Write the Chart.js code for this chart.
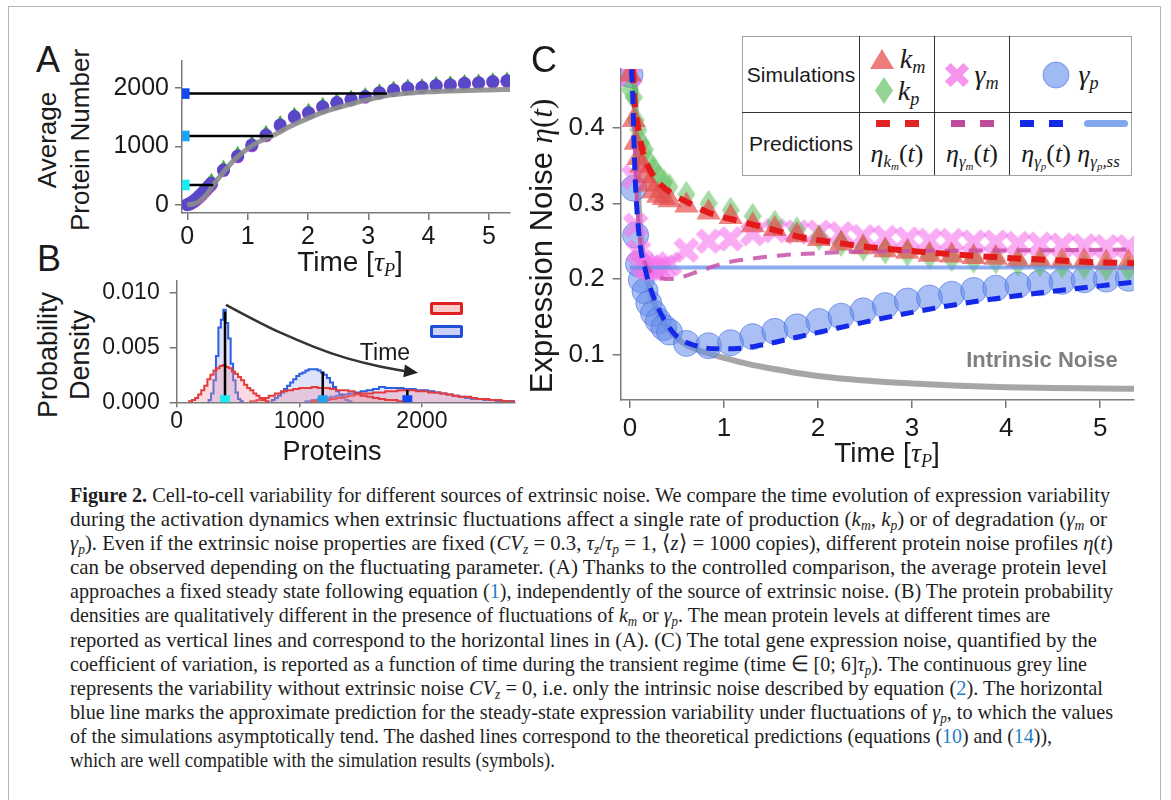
<!DOCTYPE html>
<html>
<head>
<meta charset="utf-8">
<title>Figure 2</title>
<script src="https://cdn.jsdelivr.net/npm/chart.js@4.4.1/dist/chart.umd.min.js"></script>
<style>
  body { margin: 0; background: #fff; }
  #page { position: relative; width: 1171px; height: 800px; overflow: hidden; font-family: "Liberation Sans", Arial, sans-serif; color: #1a1a1a; }
  #frame { position: absolute; left: 8px; top: 6px; width: 1151px; height: 830px; border: 1px solid #b4b4b4; }
  .box { position: absolute; }
  .t { position: absolute; white-space: nowrap; line-height: 1; transform: translate(-50%, -50%); }
  .rot { transform: translate(-50%, -50%) rotate(-90deg); text-align: center; }
  .m { font-family: "Liberation Serif", "Times New Roman", serif; font-style: italic; }
  .up { font-style: normal; }
  sub { font-size: 65%; vertical-align: -0.3em; line-height: 0; }
  #leg { position: absolute; left: 742px; top: 36px; width: 389px; height: 140px; border-collapse: collapse; background: #fff; font-size: 21px; table-layout: fixed; }
  #leg td { border: 1.5px solid #333; padding: 0; text-align: center; vertical-align: middle; }
  #leg tr:first-child td { border-top-color: #a0a0a0; }
  #leg tr:last-child td { border-bottom-color: #a0a0a0; }
  #leg td:first-child { border-left-color: #a0a0a0; }
  #leg td:last-child { border-right-color: #a0a0a0; }
  .sym { display: flex; align-items: center; justify-content: center; gap: 5px; font-size: 28px; }
  .dashes { display: flex; justify-content: center; gap: 15px; height: 7px; margin-bottom: 12px; }
  .dashes span { width: 14px; height: 7px; display: block; }
  .pred { font-size: 26px; }
  #cap { position: absolute; left: 70px; top: 483px; font-family: "Liberation Serif", "Times New Roman", serif; font-size: 21.5px; line-height: 24.1px; color: #1e1e1e; white-space: nowrap; }
  #cap > div { transform-origin: 0 50%; }
  #cap i { font-style: italic; }
  .ref { color: #1f7fc4; }
</style>
</head>
<body>
<div id="page">
  <div id="frame"></div>

  <div class="box" style="left:100px; top:50px; width:430px; height:210px;"><canvas id="chartA"></canvas></div>
  <div class="box" style="left:100px; top:270px; width:430px; height:200px;"><canvas id="chartB"></canvas></div>
  <div class="box" style="left:500px; top:55px; width:655px; height:400px;"><canvas id="chartC"></canvas></div>

  <div class="t" style="left:48px; top:60px; font-size:36px;">A</div>
  <div class="t" style="left:49px; top:259px; font-size:36px;">B</div>
  <div class="t" style="left:544px; top:60px; font-size:36px;">C</div>

  <div class="t rot" style="left:64px; top:140px; font-size:26px; line-height:33px;">Average<br>Protein Number</div>
  <div class="t" style="left:350px; top:262px; font-size:28px;">Time [<span class="m">τ<sub>P</sub></span>]</div>
  <div class="t rot" style="left:64px; top:355px; font-size:27px; line-height:32px;">Probability<br>Density</div>
  <div class="t" style="left:332px; top:451px; font-size:27px;">Proteins</div>
  <div class="t" style="left:385px; top:352px; font-size:23px;">Time</div>
  <div class="box" style="left:430px; top:302px; width:33px; height:13px; box-sizing:border-box; border:3px solid #e02020; background:rgba(250,170,170,0.6); border-radius:2px;"></div>
  <div class="box" style="left:430px; top:325px; width:33px; height:13px; box-sizing:border-box; border:3px solid #2050d8; background:rgba(170,180,245,0.6); border-radius:2px;"></div>

  <div class="t rot" style="left:541px; top:246px; font-size:31px;">Expression Noise <span class="m">η<span class="up">(</span>t<span class="up">)</span></span></div>
  <div class="t" style="left:887px; top:453px; font-size:28px;">Time [<span class="m">τ<sub>P</sub></span>]</div>
  <div class="t" style="left:1042px; top:360px; font-size:22px; font-weight:bold; color:#7f7f7f;">Intrinsic Noise</div>

  <table id="leg">
    <colgroup><col style="width:117px"><col style="width:75px"><col style="width:75px"><col style="width:122px"></colgroup>
    <tr style="height:76px">
      <td>Simulations</td>
      <td>
        <div class="sym"><svg width="26" height="22"><polygon points="13,1 25,21 1,21" fill="rgba(230,75,75,0.72)"/></svg><span class="m">k<sub>m</sub></span></div>
        <div class="sym"><svg width="18" height="27"><polygon points="9,0 18,13.5 9,27 0,13.5" fill="rgba(90,190,90,0.65)"/></svg><span class="m">k<sub>p</sub></span></div>
      </td>
      <td><div class="sym"><svg width="24" height="24"><g opacity="0.7" fill="rgb(245,105,230)" transform="rotate(45 12 12)"><rect x="8" y="-1" width="8" height="26"/><rect x="-1" y="8" width="26" height="8"/></g></svg><span class="m">γ<sub>m</sub></span></div></td>
      <td><div class="sym" style="gap:8px"><svg width="28" height="28"><circle cx="14" cy="14" r="13" fill="rgba(100,140,235,0.6)" stroke="rgba(70,110,225,0.6)"/></svg><span class="m">γ<sub>p</sub></span></div></td>
    </tr>
    <tr>
      <td>Predictions</td>
      <td><div class="dashes"><span style="background:#e02222"></span><span style="background:#e02222"></span></div>
          <div class="pred m">η<sub>k<sub>m</sub></sub><span class="up">(</span>t<span class="up">)</span></div></td>
      <td><div class="dashes"><span style="background:#c04a9c"></span><span style="background:#c04a9c"></span></div>
          <div class="pred m">η<sub>γ<sub>m</sub></sub><span class="up">(</span>t<span class="up">)</span></div></td>
      <td><div class="dashes" style="justify-content:flex-start; padding-left:10px; gap:15px"><span style="background:#1428e8"></span><span style="background:#1428e8"></span><span style="width:44px; margin-left:6px; border-radius:4px; background:rgba(100,145,235,0.8)"></span></div>
          <div class="pred m">η<sub>γ<sub>p</sub></sub><span class="up">(</span>t<span class="up">)</span> η<sub>γ<sub>p</sub>,ss</sub></div></td>
    </tr>
  </table>

  <div id="cap">
    <div><b>Figure 2.</b> Cell-to-cell variability for different sources of extrinsic noise. We compare the time evolution of expression variability</div>
    <div>during the activation dynamics when extrinsic fluctuations affect a single rate of production (<i>k<sub>m</sub></i>, <i>k<sub>p</sub></i>) or of degradation (<i>γ<sub>m</sub></i> or</div>
    <div><i>γ<sub>p</sub></i>). Even if the extrinsic noise properties are fixed (<i>CV<sub>z</sub></i> = 0.3, <i>τ<sub>z</sub></i>/<i>τ<sub>p</sub></i> = 1, ⟨<i>z</i>⟩ = 1000 copies), different protein noise profiles <i>η</i>(<i>t</i>)</div>
    <div>can be observed depending on the fluctuating parameter. (A) Thanks to the controlled comparison, the average protein level</div>
    <div>approaches a fixed steady state following equation (<span class="ref">1</span>), independently of the source of extrinsic noise. (B) The protein probability</div>
    <div>densities are qualitatively different in the presence of fluctuations of <i>k<sub>m</sub></i> or <i>γ<sub>p</sub></i>. The mean protein levels at different times are</div>
    <div>reported as vertical lines and correspond to the horizontal lines in (A). (C) The total gene expression noise, quantified by the</div>
    <div>coefficient of variation, is reported as a function of time during the transient regime (time ∈ [0; 6]<i>τ<sub>p</sub></i>). The continuous grey line</div>
    <div>represents the variability without extrinsic noise <i>CV<sub>z</sub></i> = 0, i.e. only the intrinsic noise described by equation (<span class="ref">2</span>). The horizontal</div>
    <div>blue line marks the approximate prediction for the steady-state expression variability under fluctuations of <i>γ<sub>p</sub></i>, to which the values</div>
    <div>of the simulations asymptotically tend. The dashed lines correspond to the theoretical predictions (equations (<span class="ref">10</span>) and (<span class="ref">14</span>)),</div>
    <div>which are well compatible with the simulation results (symbols).</div>
  </div>
</div>

<script>
// ---------- data ----------

// time points of the simulations (in units of tau_P)
const tSim = [0.6, 0.835, 1.07, 1.305, 1.54, 1.775, 2.01, 2.245, 2.48, 2.715, 2.95, 3.185, 3.42, 3.655, 3.89, 4.125, 4.36, 4.595, 4.83, 5.065, 5.3];

// panel A: average protein number
const tEarlyA = [0, 0.04, 0.08, 0.12, 0.16, 0.2, 0.24, 0.28, 0.32, 0.36, 0.4];
const avgEarlyKp = [0, 30, 60, 95, 135, 180, 225, 270, 320, 370, 420];
const avgEarlyGm = [0, 10, 30, 55, 90, 125, 165, 210, 255, 300, 345];
const avgEarlyGp = [0, 20, 45, 75, 110, 150, 190, 235, 280, 325, 370];
const avgKp = [640, 880, 1065, 1240, 1410, 1550, 1620, 1720, 1790, 1845, 1890, 1955, 2000, 2035, 2045, 2080, 2090, 2110, 2120, 2140, 2155];
const avgGm = [585, 820, 1010, 1180, 1350, 1495, 1565, 1668, 1738, 1795, 1842, 1910, 1955, 1990, 2003, 2035, 2045, 2070, 2080, 2100, 2115];
const avgGp = [595, 835, 1024, 1195, 1367, 1510, 1578, 1681, 1750, 1807, 1853, 1921, 1967, 2000, 2013, 2045, 2055, 2080, 2090, 2110, 2125];
const tGrayA = [0, 0.1, 0.2, 0.3, 0.43, 0.6, 0.8, 1.0, 1.2, 1.42, 1.7, 2.0, 2.35, 2.7, 3.0, 3.31, 3.7, 4.0, 4.5, 5.0, 5.37];
const grayA = [0, 12, 60, 150, 340, 560, 790, 960, 1085, 1185, 1340, 1480, 1620, 1720, 1800, 1870, 1915, 1935, 1955, 1968, 1976];
const meanLevels = [338, 1178, 1904];
const meanReach = [0.43, 1.42, 3.31];
const levelColors = ['#19ecf0', '#1ea2f2', '#1248f4'];
const ticksTime = [0, 1, 2, 3, 4, 5];
const ticksAvg = [0, 1000, 2000];

// panel B: protein histograms (first bin edge, bin width, densities)
const histRed1 = { start: 100, width: 25, dens: [0.0001, 0.0002, 0.0004, 0.0007, 0.0011, 0.0015, 0.0021, 0.0025, 0.0029, 0.0031, 0.0033, 0.0034, 0.0032, 0.0031, 0.0028, 0.0026, 0.0023, 0.0020, 0.0016, 0.0013, 0.0011, 0.0008, 0.0006, 0.0004, 0.0002, 0.0001] };
const histBlue1 = { start: 260, width: 20, dens: [0.0002, 0.0008, 0.0020, 0.0042, 0.0068, 0.0075, 0.0084, 0.0072, 0.0058, 0.0035, 0.0020, 0.0009, 0.0003, 0.0001] };
const histRed2 = { start: 600, width: 50, dens: [0.0001, 0.0002, 0.0004, 0.0006, 0.0008, 0.0010, 0.0011, 0.0012, 0.0013, 0.0013, 0.0014, 0.0013, 0.0013, 0.0012, 0.0011, 0.0011, 0.0010, 0.0008, 0.0006, 0.0005, 0.0004, 0.0003, 0.0002, 0.0002, 0.0001, 0.0001] };
const histBlue2 = { start: 775, width: 25, dens: [0.0002, 0.0004, 0.0006, 0.0009, 0.0012, 0.0015, 0.0018, 0.0021, 0.0024, 0.0026, 0.0027, 0.0029, 0.0030, 0.0030, 0.0030, 0.0029, 0.0027, 0.0025, 0.0022, 0.0018, 0.0014, 0.0010, 0.0007, 0.0004, 0.0002, 0.0001] };
const histRed3 = { start: 1100, width: 50, dens: [0.0001, 0.0002, 0.0002, 0.0003, 0.0004, 0.0005, 0.0006, 0.0007, 0.0008, 0.0008, 0.0009, 0.0009, 0.0010, 0.0010, 0.0011, 0.0011, 0.0011, 0.0010, 0.0010, 0.0009, 0.0009, 0.0008, 0.0007, 0.0006, 0.0005, 0.0005, 0.0004, 0.0003, 0.0003, 0.0002, 0.0002, 0.0001, 0.0001, 0.0001] };
const histBlue3 = { start: 1050, width: 50, dens: [0.0001, 0.0002, 0.0003, 0.0004, 0.0005, 0.0006, 0.0007, 0.0008, 0.0009, 0.0010, 0.0011, 0.0012, 0.0014, 0.0013, 0.0013, 0.0013, 0.0012, 0.0012, 0.0011, 0.0011, 0.0010, 0.0009, 0.0008, 0.0007, 0.0006, 0.0005, 0.0004, 0.0003, 0.0003, 0.0002, 0.0002, 0.0001, 0.0001, 0.0001] };
const histMeans = [394, 1191, 1881];
const histMeanHeights = [0.00824, 0.00278, 0.00112];
const arrowX = [402, 704, 979, 1250, 1520, 1795, 1968];
const arrowY = [0.00885, 0.00703, 0.00566, 0.00445, 0.00357, 0.00294, 0.00269];
const ticksProteins = [0, 1000, 2000];
const ticksDensity = [0, 0.005, 0.010];

// panel C: expression noise
const tEarlyC = [0.0, 0.04, 0.06, 0.09, 0.12, 0.16, 0.2, 0.25, 0.3, 0.36, 0.42];
const noiseKmEarly = [0.47, 0.41, 0.38, 0.36, 0.35, 0.336, 0.325, 0.316, 0.31, 0.307, 0.304];
const noiseKpEarly = [0.45, 0.44, 0.41, 0.397, 0.38, 0.371, 0.355, 0.345, 0.336, 0.328, 0.322];
const noiseGmEarly = [0.47, 0.335, 0.271, 0.236, 0.223, 0.217, 0.214, 0.213, 0.214, 0.216, 0.22];
const noiseGpEarly = [0.47, 0.32, 0.258, 0.22, 0.199, 0.184, 0.168, 0.155, 0.145, 0.136, 0.13];
const noiseKm = [0.297, 0.288, 0.282, 0.271, 0.266, 0.258, 0.253, 0.247, 0.242, 0.238, 0.236, 0.232, 0.231, 0.229, 0.228, 0.225, 0.225, 0.224, 0.224, 0.222, 0.222];
const noiseKp = [0.312, 0.3, 0.291, 0.283, 0.274, 0.265, 0.255, 0.247, 0.241, 0.237, 0.234, 0.23, 0.227, 0.225, 0.224, 0.221, 0.22, 0.218, 0.217, 0.215, 0.214];
const noiseGm = [0.238, 0.25, 0.253, 0.26, 0.264, 0.262, 0.262, 0.26, 0.256, 0.255, 0.253, 0.251, 0.251, 0.249, 0.249, 0.247, 0.246, 0.245, 0.244, 0.243, 0.243];
const noiseGp = [0.115, 0.112, 0.116, 0.124, 0.131, 0.137, 0.144, 0.151, 0.158, 0.165, 0.171, 0.175, 0.18, 0.185, 0.188, 0.192, 0.195, 0.197, 0.199, 0.2, 0.201];
const tPredKm = [0.03, 0.05, 0.09, 0.14, 0.23, 0.34, 0.48, 0.62, 0.83, 1.15, 1.5, 1.81, 2.2, 2.52, 3.0, 3.5, 4.0, 4.5, 5.0, 5.36];
const predKm = [0.477, 0.432, 0.397, 0.366, 0.34, 0.323, 0.31, 0.301, 0.288, 0.277, 0.266, 0.2555, 0.248, 0.2424, 0.237, 0.232, 0.228, 0.225, 0.222, 0.221];
const tPredGm = [0.03, 0.06, 0.1, 0.15, 0.22, 0.3, 0.4, 0.5, 0.75, 1.0, 1.3, 1.63, 2.0, 2.34, 3.0, 3.5, 4.29, 5.36];
const predGm = [0.477, 0.34, 0.26, 0.225, 0.21, 0.203, 0.2, 0.201, 0.211, 0.221, 0.227, 0.2316, 0.234, 0.236, 0.237, 0.2375, 0.238, 0.239];
const tPredGp = [0.015, 0.03, 0.045, 0.06, 0.09, 0.12, 0.16, 0.2, 0.27, 0.37, 0.5, 0.7, 0.9, 1.1, 1.4, 1.8, 2.2, 2.6, 3.0, 3.5, 4.0, 4.5, 5.0, 5.36];
const predGp = [0.477, 0.44, 0.37, 0.32, 0.266, 0.235, 0.214, 0.195, 0.17, 0.145, 0.124, 0.112, 0.108, 0.108, 0.113, 0.124, 0.135, 0.146, 0.156, 0.167, 0.176, 0.184, 0.191, 0.196];
const tSteady = [0, 5.36];
const predGpSteady = [0.2154, 0.2154];
const tIntrinsic = [0.05, 0.08, 0.12, 0.2, 0.3, 0.4, 0.5, 0.6, 0.8, 1.0, 1.25, 1.5, 2.0, 2.5, 3.0, 3.5, 4.0, 4.5, 5.0, 5.36];
const noiseIntrinsic = [0.47, 0.33, 0.25, 0.19, 0.155, 0.135, 0.122, 0.113, 0.103, 0.096, 0.088, 0.082, 0.072, 0.066, 0.062, 0.059, 0.057, 0.056, 0.0555, 0.055];
const ticksNoise = [0.1, 0.2, 0.3, 0.4];

// caption line ends in the original layout (px)
const capLineEnds = [1110, 1107, 1113, 1107, 1113, 1050, 1097, 1087, 1103, 1113, 1052, 555];

// ---------- helpers ----------
Chart.defaults.font.family = '"Liberation Sans", Arial, sans-serif';
Chart.defaults.color = '#1a1a1a';
Chart.defaults.animation = false;
Chart.defaults.plugins.legend.display = false;
Chart.defaults.plugins.tooltip.enabled = false;

function pts(xs, ys) {
  return xs.map((x, i) => ({ x: x, y: ys[i] }));
}

// step outline of a histogram from its bins
function histPts(h) {
  let out = [{ x: h.start, y: 0 }];
  h.dens.forEach((d, i) => out.push({ x: h.start + i * h.width, y: d }));
  out.push({ x: h.start + h.dens.length * h.width, y: 0 });
  return out;
}

function axis(min, max, ticks, fmt, size, fontSize, tickLen, pad, isX) {
  return {
    type: 'linear',
    min: min,
    max: max,
    afterBuildTicks: s => { s.ticks = ticks.map(v => ({ value: v })); },
    // fixed axis size, and no extra room for half labels so the plot box stays put
    afterFit: s => {
      if (isX) s.height = size; else s.width = size;
      s.paddingTop = 0; s.paddingBottom = 0; s.paddingLeft = 0; s.paddingRight = 0;
    },
    ticks: { font: { size: fontSize }, padding: pad, color: '#1a1a1a', callback: fmt, maxRotation: 0 },
    grid: { drawOnChartArea: false, drawTicks: true, tickLength: tickLen, tickColor: '#777', lineWidth: 1.5 },
    border: { display: true, color: '#7a7a7a', width: 1.5 }
  };
}

function lineSet(data, color, width, order, dash) {
  return {
    data: data, showLine: true, pointRadius: 0, borderColor: color, borderWidth: width,
    borderDash: dash || [], borderCapStyle: 'butt', cubicInterpolationMode: 'monotone', order: order
  };
}

// custom marker shapes for panel C
function makeDiamond(w, h, fill) {
  const c = document.createElement('canvas');
  c.width = w; c.height = h;
  const g = c.getContext('2d');
  g.fillStyle = fill;
  g.beginPath();
  g.moveTo(w / 2, 0); g.lineTo(w, h / 2); g.lineTo(w / 2, h); g.lineTo(0, h / 2);
  g.closePath(); g.fill();
  return c;
}

function makeCross(size, a, L, fill) {
  const c = document.createElement('canvas');
  c.width = size; c.height = size;
  const g = c.getContext('2d');
  g.translate(size / 2, size / 2);
  g.rotate(Math.PI / 4);
  const p = [[-a, -L], [a, -L], [a, -a], [L, -a], [L, a], [a, a], [a, L], [-a, L], [-a, a], [-L, a], [-L, -a], [-a, -a]];
  g.fillStyle = fill;
  g.beginPath();
  p.forEach((q, i) => i ? g.lineTo(q[0], q[1]) : g.moveTo(q[0], q[1]));
  g.closePath(); g.fill();
  return c;
}

// ---------- panel A ----------
let dsA = [
  { data: pts(tEarlyA, avgEarlyKp).concat(pts(tSim, avgKp)), pointStyle: 'triangle', pointRadius: 7.5, backgroundColor: 'rgb(70,170,70)', borderWidth: 0, order: 6 },
  { data: pts(tEarlyA, avgEarlyGm).concat(pts(tSim, avgGm)), pointStyle: 'circle', pointRadius: 6.5, backgroundColor: 'rgb(205,70,210)', borderWidth: 0, order: 5 },
  { data: pts(tEarlyA, avgEarlyGp).concat(pts(tSim, avgGp)), pointStyle: 'circle', pointRadius: 6.5, backgroundColor: 'rgb(88,72,200)', borderWidth: 0, order: 4 },
  lineSet(pts(tGrayA, grayA), 'rgba(140,140,140,0.9)', 5, 3)
];
meanLevels.forEach((lv, i) => {
  dsA.push(lineSet([{ x: 0, y: lv }, { x: meanReach[i], y: lv }], '#000', 2.5, 2));
  dsA.push({ data: [{ x: -0.05, y: lv }], pointStyle: 'rect', pointRadius: 7.5, backgroundColor: levelColors[i], borderWidth: 0, order: 1 });
});

new Chart(document.getElementById('chartA'), {
  type: 'scatter',
  data: { datasets: dsA },
  options: {
    responsive: true, maintainAspectRatio: false,
    layout: { padding: { top: 11, right: 20, left: 0, bottom: 0 } },
    scales: {
      x: axis(-0.088, 5.35, ticksTime, v => String(v), 47, 25, 7, 2, true),
      y: axis(-142, 2463, ticksAvg, v => String(v), 82, 25, 7, 6, false)
    }
  }
});

// ---------- panel B ----------
const arrowPlugin = {
  id: 'timeArrow',
  afterDatasetsDraw(chart) {
    const ctx = chart.ctx, xs = chart.scales.x, ys = chart.scales.y;
    const p = arrowX.map((v, i) => [xs.getPixelForValue(v), ys.getPixelForValue(arrowY[i])]);
    const n = p.length;
    const tip = p[n - 1], prev = p[n - 2];
    const ang = Math.atan2(tip[1] - prev[1], tip[0] - prev[0]);
    const headLen = 14, headW = 6.5;
    const base = [tip[0] - headLen * Math.cos(ang), tip[1] - headLen * Math.sin(ang)];
    ctx.save();
    ctx.strokeStyle = '#333';
    ctx.lineWidth = 2.5;
    ctx.beginPath();
    ctx.moveTo(p[0][0], p[0][1]);
    for (let i = 1; i < n - 2; i++) {
      const mx = (p[i][0] + p[i + 1][0]) / 2, my = (p[i][1] + p[i + 1][1]) / 2;
      ctx.quadraticCurveTo(p[i][0], p[i][1], mx, my);
    }
    ctx.quadraticCurveTo(p[n - 2][0], p[n - 2][1], base[0], base[1]);
    ctx.stroke();
    ctx.fillStyle = '#222';
    ctx.beginPath();
    ctx.moveTo(tip[0], tip[1]);
    ctx.lineTo(base[0] - headW * Math.sin(ang), base[1] + headW * Math.cos(ang));
    ctx.lineTo(base[0] + headW * Math.sin(ang), base[1] - headW * Math.cos(ang));
    ctx.closePath();
    ctx.fill();
    ctx.restore();
  }
};

function histSet(h, line, fill, order) {
  return { data: histPts(h), showLine: true, stepped: 'before', pointRadius: 0, borderColor: line, borderWidth: 2, backgroundColor: fill, fill: 'origin', order: order };
}

let dsB = [
  histSet(histBlue1, 'rgb(45,95,225)', 'rgba(160,175,240,0.35)', 8),
  histSet(histRed1, 'rgb(228,60,60)', 'rgba(240,150,165,0.35)', 7),
  histSet(histBlue2, 'rgb(45,95,225)', 'rgba(160,175,240,0.35)', 8),
  histSet(histRed2, 'rgb(228,60,60)', 'rgba(240,150,165,0.35)', 7),
  histSet(histBlue3, 'rgb(45,95,225)', 'rgba(160,175,240,0.35)', 8),
  histSet(histRed3, 'rgb(228,60,60)', 'rgba(240,150,165,0.35)', 7)
];
histMeans.forEach((m, i) => {
  dsB.push({ data: [{ x: m, y: 0 }, { x: m, y: histMeanHeights[i] }], showLine: true, pointRadius: 0, borderColor: '#000', borderWidth: 2.5, order: 2 });
  dsB.push({ data: [{ x: m, y: 0.0002 }], pointStyle: 'rect', pointRadius: 7, backgroundColor: levelColors[i], borderWidth: 0, order: 1 });
});

new Chart(document.getElementById('chartB'), {
  type: 'scatter',
  data: { datasets: dsB },
  options: {
    responsive: true, maintainAspectRatio: false,
    layout: { padding: { top: 10.7, right: 15, left: 0, bottom: 0 } },
    scales: {
      x: axis(0, 2759, ticksProteins, v => String(v), 67.7, 23, 5, 1, true),
      y: axis(0, 0.01105, ticksDensity, v => v.toFixed(3), 76.7, 23, 7, 10, false)
    }
  },
  plugins: [arrowPlugin]
});

// ---------- panel C ----------
const diamond = makeDiamond(18, 27, 'rgba(90,190,90,0.55)');
const cross = makeCross(26, 4.2, 14, 'rgba(245,115,235,0.6)');

new Chart(document.getElementById('chartC'), {
  type: 'scatter',
  data: {
    datasets: [
      lineSet(pts(tIntrinsic, noiseIntrinsic), 'rgba(150,150,150,0.85)', 6, 9),
      { data: pts(tEarlyC, noiseGpEarly).concat(pts(tSim, noiseGp)), pointStyle: 'circle', pointRadius: 13, backgroundColor: 'rgba(100,140,235,0.55)', borderColor: 'rgba(70,110,225,0.6)', borderWidth: 1, order: 8 },
      { data: pts(tEarlyC, noiseGmEarly).concat(pts(tSim, noiseGm)), pointStyle: cross, order: 7 },
      { data: pts(tEarlyC, noiseKpEarly).concat(pts(tSim, noiseKp)), pointStyle: diamond, order: 6 },
      { data: pts(tEarlyC, noiseKmEarly).concat(pts(tSim, noiseKm)), pointStyle: 'triangle', pointRadius: 14, backgroundColor: 'rgba(230,75,75,0.68)', borderWidth: 0, order: 5 },
      lineSet(pts(tSteady, predGpSteady), 'rgba(100,145,235,0.75)', 4, 4),
      lineSet(pts(tPredGm, predGm), 'rgba(200,80,170,0.85)', 4, 3, [14, 10]),
      lineSet(pts(tPredKm, predKm), '#e41a1a', 6, 2, [14, 10]),
      lineSet(pts(tPredGp, predGp), '#1428e8', 5, 1, [13, 9])
    ]
  },
  options: {
    responsive: true, maintainAspectRatio: false,
    layout: { padding: { top: 10, right: 21, left: 0, bottom: 0 } },
    scales: {
      x: axis(-0.1, 5.36, ticksTime, v => String(v), 55, 26, 8, 5, true),
      y: axis(0.0403, 0.4774, ticksNoise, v => v.toFixed(1), 120.6, 26, 8, 8, false)
    }
  }
});

// caption: squeeze each line to its width in the journal layout
document.querySelectorAll('#cap > div').forEach((line, i) => {
  line.innerHTML = '<span>' + line.innerHTML + '</span>';
  const w = line.firstChild.getBoundingClientRect().width;
  line.style.transform = 'scaleX(' + ((capLineEnds[i] - 70) / w) + ')';
});
</script>
</body>
</html>
